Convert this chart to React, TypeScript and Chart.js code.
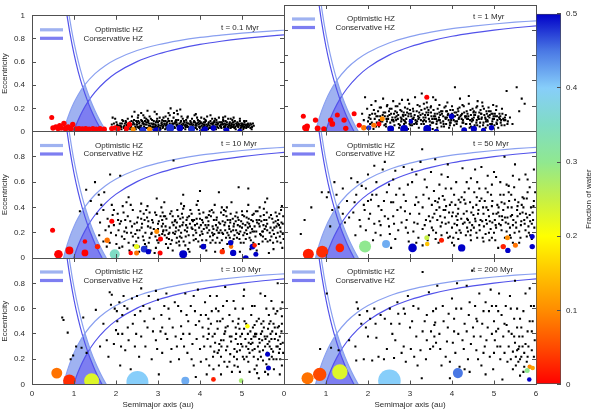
import React, { useEffect, useRef } from 'react';
import { Chart, registerables } from 'chart.js';

Chart.register(...registerables);

const FONT = "'Liberation Sans', Arial, Helvetica, sans-serif";
Chart.defaults.font.family = FONT;
Chart.defaults.font.size = 8;
Chart.defaults.color = '#303030';

// ---------------- data ----------------
const TIME_LABELS = ['t = 0.1 Myr', 't = 1 Myr', 't = 10 Myr', 't = 50 Myr', 't = 100 Myr', 't = 200 Myr'];
const LEGEND_LABELS = ['Optimistic HZ', 'Conservative HZ'];

// colour palette of the water fraction (0 .. 0.5)
const WATER_STOPS = [0, 0.05, 0.1, 0.15, 0.2, 0.25, 0.3, 0.35, 0.4, 0.45, 0.5];
const WATER_COLORS = ['#ff0000', '#ff4a00', '#ff8c00', '#ffc400', '#ffff00', '#c6f046', '#90e890', '#80dcc4', '#87cefa', '#4a78e4', '#0000c8'];
const WATER_TICKS = [0, 0.1, 0.2, 0.3, 0.4, 0.5];

// habitable-zone boundary curves (semimajor axis, eccentricity)
const OPT_PERI_A = [0.75, 0.8, 0.9, 1.0, 1.1, 1.25, 1.5, 1.75, 2, 2.5, 3, 3.5, 4, 4.5, 5, 5.5, 6];
const OPT_PERI_E = [0, 0.063, 0.167, 0.25, 0.318, 0.4, 0.5, 0.571, 0.625, 0.7, 0.75, 0.786, 0.813, 0.833, 0.85, 0.864, 0.875];
const CON_PERI_A = [0.99, 1.05, 1.1, 1.2, 1.33, 1.5, 1.75, 2, 2.5, 3, 3.5, 4, 4.5, 5, 5.5, 6];
const CON_PERI_E = [0, 0.057, 0.1, 0.175, 0.256, 0.34, 0.434, 0.505, 0.604, 0.67, 0.717, 0.753, 0.78, 0.802, 0.82, 0.835];
const OPT_APO_A = [0.885, 0.95, 1.0, 1.1, 1.2, 1.26, 1.4, 1.5, 1.6, 1.7, 1.77];
const OPT_APO_E = [1, 0.863, 0.77, 0.609, 0.475, 0.405, 0.264, 0.18, 0.106, 0.041, 0];
const CON_APO_A = [0.835, 0.9, 1.0, 1.1, 1.2, 1.33, 1.4, 1.5, 1.6, 1.67];
const CON_APO_E = [1, 0.856, 0.67, 0.518, 0.392, 0.256, 0.193, 0.113, 0.044, 0];
const OPT_ZONE_A = [0.75, 0.8, 0.9, 1.0, 1.1, 1.2, 1.26, 1.3, 1.4, 1.5, 1.6, 1.7, 1.77];
const OPT_ZONE_E = [0, 0.063, 0.167, 0.25, 0.318, 0.375, 0.405, 0.362, 0.264, 0.18, 0.106, 0.041, 0];
const CON_ZONE_A = [0.99, 1.05, 1.1, 1.2, 1.3, 1.33, 1.36, 1.4, 1.5, 1.6, 1.67];
const CON_ZONE_E = [0, 0.057, 0.1, 0.175, 0.238, 0.256, 0.228, 0.193, 0.113, 0.044, 0];

// planetesimals [a, e]
const DOTS_01 = [
  [1.92,0.12],[1.98,0.11],[2.02,0.05],[2.06,0.03],[2.1,0.07],[2.13,0.02],[2.17,0.09],[2.2,0.05],[2.22,0.01],[2.25,0.06],[2.28,0.11],[2.3,0.03],[2.33,0.08],[2.35,0.05],[2.38,0.13],[2.4,0.02],[2.42,0.07],[2.44,0.17],[2.46,0.04],[2.48,0.09],
  [2.5,0.06],[2.52,0.12],[2.54,0.03],[2.56,0.08],[2.58,0.05],[2.6,0.1],[2.61,0.02],[2.63,0.07],[2.65,0.14],[2.67,0.04],[2.69,0.09],[2.7,0.06],[2.72,0.11],[2.74,0.03],[2.76,0.08],[2.78,0.05],[2.8,0.13],[2.82,0.02],[2.84,0.07],[2.86,0.1],
  [2.88,0.04],[2.9,0.09],[2.92,0.17],[2.94,0.06],[2.96,0.03],[2.98,0.11],[3.0,0.08],[3.02,0.05],[3.04,0.12],[3.06,0.02],[3.08,0.07],[3.1,0.1],[3.12,0.04],[3.14,0.09],[3.16,0.06],[3.18,0.13],[3.2,0.03],[3.22,0.08],[3.24,0.11],[3.26,0.05],
  [3.28,0.07],[3.3,0.2],[3.31,0.02],[3.33,0.09],[3.35,0.06],[3.37,0.12],[3.39,0.04],[3.41,0.08],[3.43,0.1],[3.45,0.05],[3.47,0.15],[3.49,0.03],[3.51,0.07],[3.53,0.19],[3.55,0.09],[3.57,0.04],[3.59,0.11],[3.61,0.06],[3.63,0.08],[3.65,0.02],
  [3.67,0.1],[3.69,0.05],[3.71,0.13],[3.73,0.07],[3.75,0.03],[3.77,0.09],[3.79,0.06],[3.81,0.11],[3.83,0.04],[3.85,0.08],[3.87,0.14],[3.89,0.05],[3.91,0.07],[3.93,0.02],[3.95,0.1],[3.97,0.06],[3.99,0.09],[4.01,0.04],[4.03,0.12],[4.05,0.07],
  [4.07,0.03],[4.09,0.08],[4.11,0.05],[4.13,0.1],[4.15,0.06],[4.17,0.13],[4.19,0.02],[4.21,0.08],[4.23,0.05],[4.25,0.09],[4.27,0.04],[4.29,0.11],[4.31,0.07],[4.33,0.03],[4.35,0.08],[4.37,0.06],[4.39,0.1],[4.41,0.04],[4.43,0.07],[4.45,0.12],
  [4.47,0.05],[4.49,0.08],[4.51,0.03],[4.53,0.06],[4.55,0.1],[4.57,0.04],[4.59,0.07],[4.61,0.09],[4.63,0.02],[4.65,0.06],[4.67,0.11],[4.69,0.05],[4.71,0.08],[4.73,0.03],[4.75,0.07],[4.77,0.1],[4.79,0.04],[4.81,0.06],[4.83,0.09],[4.85,0.02],
  [4.87,0.05],[4.89,0.08],[4.91,0.04],[4.93,0.06],[4.95,0.09],[4.97,0.03],[4.99,0.05],[5.01,0.07],[5.03,0.02],[5.05,0.04],[5.07,0.06],[5.1,0.03],[5.13,0.05],[5.16,0.06],[5.2,0.03],[5.24,0.04],
  [2.01,0.08],[2.07,0.05],[2.12,0.04],[2.19,0.03],[2.24,0.08],[2.29,0.06],[2.34,0.02],[2.39,0.06],[2.43,0.1],[2.47,0.02],[2.51,0.04],[2.55,0.07],[2.59,0.03],[2.62,0.09],[2.66,0.06],[2.71,0.03],[2.75,0.1],[2.79,0.07],[2.83,0.04],[2.87,0.06],
  [2.91,0.02],[2.95,0.08],[2.99,0.04],[3.03,0.09],[3.07,0.05],[3.11,0.03],[3.15,0.07],[3.19,0.05],[3.23,0.02],[3.27,0.09],[3.32,0.04],[3.36,0.07],[3.4,0.03],[3.44,0.06],[3.48,0.1],[3.52,0.04],[3.56,0.06],[3.6,0.03],[3.64,0.05],[3.68,0.08],
  [3.72,0.04],[3.76,0.06],[3.8,0.02],[3.84,0.06],[3.88,0.03],[3.92,0.05],[3.96,0.08],[4.0,0.03],[4.04,0.05],[4.08,0.06],[4.12,0.08],[4.16,0.04],[4.2,0.06],[4.24,0.03],[4.28,0.07],[4.32,0.05],[4.36,0.04],[4.4,0.06],[4.44,0.03],[4.48,0.05],
  [4.52,0.08],[4.56,0.06],[4.6,0.04],[4.64,0.08],[4.68,0.03],[4.72,0.05],[4.76,0.06],[4.8,0.08],[4.84,0.04],[4.88,0.06],[4.92,0.07],[4.96,0.05],[5.0,0.04],[5.04,0.06],[5.09,0.05],[5.15,0.04],[5.22,0.06],[5.28,0.05],
  [1.9,0.06],[1.95,0.07],[2.6,0.16],[2.75,0.18],[3.25,0.16],[3.45,0.18],[3.9,0.15],[4.25,0.14],[4.6,0.13],[4.8,0.12],[5.1,0.09]
];
const DOTS_01B = [
  [2.03,0.06],[2.08,0.02],[2.14,0.07],[2.18,0.04],[2.23,0.09],[2.27,0.03],[2.31,0.07],[2.36,0.04],[2.41,0.08],[2.45,0.03],[2.49,0.06],[2.53,0.09],[2.57,0.02],[2.6,0.05],[2.64,0.08],[2.68,0.03],[2.73,0.06],[2.77,0.09],[2.81,0.05],[2.85,0.02],
  [2.89,0.07],[2.93,0.04],[2.97,0.09],[3.01,0.06],[3.05,0.03],[3.09,0.08],[3.13,0.05],[3.17,0.02],[3.21,0.06],[3.25,0.09],[3.29,0.04],[3.34,0.07],[3.38,0.03],[3.42,0.09],[3.46,0.06],[3.5,0.02],[3.54,0.08],[3.58,0.05],[3.62,0.09],[3.66,0.04],
  [3.7,0.07],[3.74,0.02],[3.78,0.08],[3.82,0.05],[3.86,0.09],[3.9,0.03],[3.94,0.07],[3.98,0.04],[4.02,0.08],[4.06,0.02],[4.1,0.06],[4.14,0.09],[4.18,0.05],[4.22,0.03],[4.26,0.07],[4.3,0.04],[4.34,0.09],[4.38,0.02],[4.42,0.06],[4.46,0.08],
  [4.5,0.04],[4.54,0.07],[4.58,0.02],[4.62,0.06],[4.66,0.04],[4.7,0.07],[4.74,0.05],[4.78,0.08],[4.82,0.03],[4.86,0.07],[4.9,0.05],[4.94,0.02],[4.98,0.07],[5.02,0.05],[5.06,0.08],[5.11,0.04],[5.14,0.07],[5.18,0.05],[5.23,0.02],[5.26,0.07],
  [2.15,0.1],[2.37,0.09],[2.53,0.14],[2.68,0.12],[2.83,0.11],[2.97,0.15],[3.13,0.12],[3.28,0.14],[3.38,0.16],[3.56,0.13],[3.7,0.12],[3.93,0.12],[4.1,0.11],[4.36,0.11],[4.55,0.12],[4.73,0.11],[4.95,0.11],[5.05,0.09]
];
const DOTS_01C = [
  [2.11,0.05],[2.21,0.07],[2.32,0.05],[2.44,0.06],[2.55,0.04],[2.66,0.07],[2.78,0.03],[2.9,0.06],[3.0,0.04],[3.1,0.06],[3.2,0.07],[3.3,0.05],[3.4,0.07],[3.5,0.05],[3.6,0.07],[3.7,0.04],[3.8,0.07],[3.9,0.06],[4.0,0.07],[4.1,0.04],
  [4.2,0.07],[4.3,0.06],[4.4,0.08],[4.5,0.06],[4.6,0.05],[4.7,0.06],[4.8,0.05],[4.9,0.06],[5.0,0.06],[5.12,0.06],[2.26,0.05],[2.5,0.08],[2.72,0.08],[2.95,0.05],[3.18,0.09],[3.44,0.08],[3.66,0.06],[3.88,0.08],[4.08,0.04],[4.32,0.08],
  [4.56,0.09],[4.76,0.04],[5.04,0.03],[5.2,0.07]
];
const DOTS_1 = [
  [1.82,0.05],[1.86,0.14],[1.9,0.09],[1.93,0.27],[1.95,0.03],[1.98,0.18],[2.02,0.11],[2.05,0.06],[2.08,0.21],[2.1,0.14],[2.13,0.02],[2.16,0.1],[2.18,0.24],[2.21,0.07],[2.24,0.16],[2.26,0.04],[2.29,0.12],[2.31,0.19],[2.34,0.08],[2.36,0.26],
  [2.39,0.05],[2.41,0.15],[2.44,0.1],[2.46,0.21],[2.49,0.03],[2.51,0.13],[2.53,0.07],[2.56,0.18],[2.58,0.11],[2.6,0.24],[2.63,0.05],[2.65,0.16],[2.67,0.09],[2.7,0.2],[2.72,0.13],[2.74,0.03],[2.77,0.17],[2.79,0.08],[2.81,0.25],[2.84,0.12],
  [2.86,0.06],[2.88,0.19],[2.91,0.1],[2.93,0.15],[2.95,0.02],[2.98,0.22],[3.0,0.09],[3.02,0.14],[3.05,0.05],[3.07,0.18],[3.09,0.11],[3.12,0.27],[3.14,0.07],[3.16,0.16],[3.19,0.12],[3.21,0.03],[3.23,0.2],[3.26,0.09],[3.28,0.3],[3.3,0.14],
  [3.33,0.06],[3.35,0.18],[3.37,0.11],[3.4,0.23],[3.42,0.04],[3.44,0.15],[3.47,0.08],[3.49,0.19],[3.51,0.12],[3.54,0.02],[3.56,0.17],[3.58,0.1],[3.61,0.25],[3.63,0.06],[3.65,0.14],[3.68,0.09],[3.7,0.21],[3.72,0.13],[3.75,0.04],[3.77,0.16],
  [3.79,0.08],[3.82,0.19],[3.84,0.11],[3.86,0.06],[3.89,0.23],[3.91,0.14],[3.93,0.03],[3.96,0.17],[3.98,0.09],[4.0,0.2],[4.03,0.12],[4.05,0.05],[4.07,0.35],[4.1,0.15],[4.12,0.08],[4.14,0.18],[4.17,0.11],[4.19,0.26],[4.21,0.04],[4.24,0.14],
  [4.26,0.09],[4.28,0.2],[4.31,0.12],[4.33,0.06],[4.35,0.16],[4.38,0.1],[4.4,0.22],[4.42,0.03],[4.45,0.13],[4.47,0.08],[4.49,0.18],[4.52,0.11],[4.54,0.05],[4.56,0.15],[4.59,0.09],[4.61,0.24],[4.63,0.12],[4.66,0.04],[4.68,0.17],[4.7,0.1],
  [4.73,0.2],[4.75,0.07],[4.77,0.13],[4.8,0.03],[4.82,0.16],[4.84,0.09],[4.87,0.19],[4.89,0.11],[4.91,0.06],[4.94,0.14],[4.96,0.08],[4.98,0.21],[5.01,0.05],[5.03,0.12],[5.05,0.17],[5.08,0.09],[5.1,0.03],[5.13,0.14],[5.16,0.07],[5.19,0.18],
  [5.22,0.1],[5.25,0.05],[5.28,0.13],[5.3,0.32],[5.33,0.08],[5.38,0.11],[5.44,0.06],[5.54,0.35],[5.6,0.16],[5.73,0.22],[5.66,0.26],
  [2.0,0.08],[2.11,0.05],[2.2,0.12],[2.27,0.09],[2.35,0.13],[2.42,0.06],[2.48,0.1],[2.55,0.14],[2.61,0.08],[2.68,0.12],[2.73,0.06],[2.8,0.1],[2.85,0.15],[2.9,0.07],[2.96,0.12],[3.01,0.05],[3.06,0.1],[3.11,0.13],[3.17,0.08],[3.22,0.15],
  [3.27,0.06],[3.32,0.11],[3.38,0.08],[3.43,0.13],[3.48,0.05],[3.53,0.1],[3.59,0.14],[3.64,0.08],[3.69,0.11],[3.74,0.16],[3.8,0.06],[3.85,0.1],[3.9,0.13],[3.95,0.07],[4.01,0.11],[4.06,0.15],[4.11,0.06],[4.16,0.1],[4.22,0.13],[4.27,0.07],
  [4.32,0.11],[4.37,0.14],[4.43,0.06],[4.48,0.1],[4.53,0.13],[4.58,0.07],[4.64,0.1],[4.69,0.14],[4.74,0.05],[4.79,0.11],[4.85,0.08],[4.9,0.13],[4.95,0.06],[5.0,0.1],[5.06,0.07],[5.12,0.11],[5.18,0.05],[5.24,0.09],[5.32,0.06]
];
const DOTS_1B = [
  [2.04,0.13],[2.09,0.07],[2.14,0.17],[2.19,0.04],[2.23,0.12],[2.28,0.19],[2.33,0.1],[2.37,0.15],[2.43,0.04],[2.47,0.12],[2.52,0.18],[2.57,0.09],[2.62,0.14],[2.66,0.2],[2.71,0.1],[2.76,0.05],[2.8,0.16],[2.85,0.09],[2.89,0.13],[2.94,0.18],
  [2.99,0.06],[3.03,0.12],[3.08,0.16],[3.13,0.09],[3.18,0.21],[3.22,0.11],[3.27,0.17],[3.31,0.08],[3.36,0.13],[3.41,0.19],[3.45,0.1],[3.5,0.15],[3.55,0.07],[3.6,0.12],[3.66,0.18],[3.71,0.09],[3.76,0.14],[3.81,0.04],[3.86,0.16],[3.92,0.09],
  [3.97,0.12],[4.02,0.17],[4.08,0.08],[4.13,0.13],[4.18,0.19],[4.23,0.1],[4.29,0.15],[4.34,0.06],[4.39,0.12],[4.44,0.17],[4.5,0.09],[4.55,0.13],[4.6,0.05],[4.65,0.15],[4.71,0.11],[4.76,0.18],[4.81,0.08],[4.86,0.12],[4.92,0.16],[4.97,0.1],
  [5.02,0.14],[5.07,0.06],[5.14,0.1],[5.2,0.14],[5.27,0.09],
  [2.25,0.06],[2.45,0.08],[2.65,0.11],[2.83,0.13],[3.04,0.07],[3.2,0.1],[3.39,0.15],[3.57,0.12],[3.73,0.07],[3.88,0.11],[4.04,0.09],[4.2,0.12],[4.36,0.1],[4.51,0.15],[4.67,0.07],[4.83,0.14],[4.99,0.12],[5.15,0.12],[3.1,0.06],[3.95,0.05],
  [4.45,0.04],[2.9,0.04],[3.65,0.03],[4.85,0.05],[2.58,0.03],[3.33,0.22],[4.25,0.21],[4.58,0.19],[3.85,0.2],[2.75,0.22],[5.06,0.2],[4.72,0.23],[3.55,0.27],[4.4,0.28],[2.95,0.25]
];
const DOTS_1C = [
  [2.06,0.1],[2.17,0.14],[2.3,0.08],[2.4,0.12],[2.5,0.16],[2.6,0.09],[2.69,0.15],[2.78,0.11],[2.88,0.08],[2.97,0.14],[3.07,0.1],[3.16,0.06],[3.25,0.13],[3.34,0.09],[3.44,0.17],[3.52,0.07],[3.62,0.1],[3.7,0.15],[3.79,0.12],[3.88,0.16],
  [3.97,0.07],[4.07,0.12],[4.15,0.16],[4.25,0.07],[4.34,0.12],[4.43,0.09],[4.52,0.16],[4.62,0.11],[4.7,0.14],[4.8,0.1],[4.88,0.16],[4.97,0.14],[5.07,0.12],[5.17,0.09],[5.26,0.11],[3.0,0.17],[3.5,0.2],[4.0,0.14],[4.6,0.2],[2.45,0.2]
];
const DOTS_10 = [
  [1.14,0.37],[1.29,0.54],[1.5,0.6],[1.59,0.5],[1.72,0.52],[1.86,0.66],[2.1,0.65],[3.37,0.77],[4.0,0.53],[4.45,0.52],[4.92,0.56],[5.15,0.55],[2.97,0.47],[1.4,0.45],[1.65,0.42],[2.3,0.48],[3.6,0.5],[5.6,0.47],
  [1.55,0.35],[1.62,0.28],[1.7,0.38],[1.75,0.22],[1.8,0.31],[1.85,0.12],[1.9,0.42],[1.95,0.26],[2.0,0.18],[2.04,0.35],[2.08,0.08],[2.12,0.29],[2.16,0.41],[2.2,0.15],[2.24,0.24],[2.28,0.33],[2.32,0.06],[2.36,0.2],[2.4,0.38],[2.44,0.27],
  [2.48,0.13],[2.52,0.32],[2.56,0.22],[2.6,0.43],[2.64,0.17],[2.68,0.3],[2.72,0.09],[2.76,0.25],[2.8,0.36],[2.84,0.19],[2.88,0.28],[2.92,0.04],[2.96,0.34],[3.0,0.23],[3.04,0.14],[3.08,0.4],[3.12,0.27],[3.16,0.18],[3.2,0.31],[3.24,0.08],
  [3.28,0.24],[3.32,0.37],[3.36,0.2],[3.4,0.29],[3.44,0.12],[3.48,0.33],[3.52,0.25],[3.56,0.16],[3.6,0.39],[3.64,0.22],[3.68,0.3],[3.72,0.07],[3.76,0.27],[3.8,0.35],[3.84,0.18],[3.88,0.26],[3.92,0.42],[3.96,0.13],[4.0,0.31],[4.04,0.21],
  [4.08,0.36],[4.12,0.1],[4.16,0.24],[4.2,0.29],[4.24,0.17],[4.28,0.38],[4.32,0.23],[4.36,0.05],[4.4,0.32],[4.44,0.2],[4.48,0.27],[4.52,0.14],[4.56,0.34],[4.6,0.22],[4.64,0.4],[4.68,0.18],[4.72,0.28],[4.76,0.09],[4.8,0.25],[4.84,0.33],
  [4.88,0.16],[4.92,0.3],[4.96,0.21],[5.0,0.37],[5.04,0.12],[5.08,0.26],[5.12,0.19],[5.16,0.31],[5.2,0.07],[5.24,0.23],[5.28,0.35],[5.32,0.17],[5.36,0.28],[5.4,0.11],[5.44,0.33],[5.48,0.21],[5.52,0.39],[5.56,0.15],[5.6,0.27],[5.64,0.04],
  [5.68,0.24],[5.72,0.31],[5.76,0.19],[5.8,0.36],[5.84,0.13],[5.88,0.26],[5.92,0.21],[5.96,0.08],[5.98,0.33],
  [1.6,0.18],[1.78,0.09],[1.88,0.2],[1.98,0.05],[2.06,0.22],[2.14,0.17],[2.22,0.3],[2.3,0.12],[2.38,0.25],[2.46,0.19],[2.54,0.09],[2.62,0.27],[2.7,0.2],[2.78,0.12],[2.86,0.3],[2.94,0.17],[3.02,0.29],[3.1,0.19],[3.18,0.25],[3.26,0.15],
  [3.34,0.28],[3.42,0.21],[3.5,0.13],[3.58,0.26],[3.66,0.17],[3.74,0.33],[3.82,0.23],[3.9,0.15],[3.98,0.24],[4.06,0.19],[4.14,0.32],[4.22,0.22],[4.3,0.14],[4.38,0.26],[4.46,0.2],[4.54,0.29],[4.62,0.16],[4.7,0.23],[4.78,0.31],[4.86,0.22],
  [4.94,0.15],[5.02,0.27],[5.1,0.22],[5.18,0.16],[5.26,0.29],[5.34,0.21],[5.42,0.25],[5.5,0.17],[5.58,0.3],[5.66,0.2],[5.74,0.12],[5.82,0.25],[5.9,0.17],[5.94,0.28],
  [3.55,0.2],[3.7,0.24],[3.86,0.3],[4.02,0.26],[4.18,0.2],[4.26,0.33],[4.34,0.19],[4.42,0.24],[4.5,0.36],[4.58,0.26],[4.66,0.3],[4.74,0.21],[4.82,0.18],[4.9,0.26],[4.98,0.29],[5.06,0.2],[5.14,0.24],[5.22,0.3],[5.3,0.25],[5.46,0.29],
  [5.54,0.23],[5.7,0.17],[5.86,0.3],[2.5,0.28],[2.66,0.35],[2.82,0.24],[3.14,0.33],[3.3,0.11],[3.46,0.38]
];
const DOTS_10B = [
  [1.83,0.25],[1.92,0.34],[2.01,0.11],[2.09,0.27],[2.18,0.36],[2.26,0.2],[2.34,0.29],[2.42,0.1],[2.5,0.22],[2.58,0.37],[2.66,0.14],[2.74,0.32],[2.82,0.06],[2.9,0.23],[2.98,0.14],[3.06,0.33],[3.13,0.22],[3.21,0.16],[3.29,0.35],[3.37,0.26],
  [3.45,0.16],[3.53,0.31],[3.61,0.13],[3.69,0.21],[3.77,0.38],[3.85,0.14],[3.93,0.27],[4.01,0.09],[4.09,0.23],[4.17,0.32],[4.25,0.12],[4.33,0.3],[4.41,0.16],[4.49,0.22],[4.57,0.38],[4.65,0.11],[4.73,0.35],[4.81,0.27],[4.89,0.2],[4.97,0.12],
  [5.05,0.33],[5.13,0.28],[5.21,0.14],[5.29,0.21],[5.37,0.37],[5.45,0.18],[5.53,0.3],[5.61,0.13],[5.69,0.34],[5.77,0.24],[5.85,0.2],[5.93,0.38],[5.99,0.15],
  [3.03,0.18],[3.11,0.36],[3.19,0.11],[3.27,0.2],[3.35,0.33],[3.43,0.24],[3.51,0.1],[3.59,0.32],[3.67,0.26],[3.75,0.12],[3.83,0.29],[3.91,0.2],[3.99,0.35],[4.07,0.28],[4.15,0.14],[4.23,0.37],[4.31,0.18],[4.39,0.3],[4.47,0.12],[4.55,0.19],
  [4.63,0.33],[4.71,0.16],[4.79,0.22],[4.87,0.36],[4.95,0.25],[5.03,0.18],[5.11,0.32],[5.19,0.25],[5.27,0.12],[5.35,0.3],[5.43,0.19],[5.51,0.26],[5.59,0.36],[5.67,0.14],[5.75,0.28],[5.83,0.33],[5.91,0.24],[5.97,0.19],
  [2.15,0.09],[2.35,0.42],[2.55,0.05],[2.75,0.41],[2.95,0.08],[3.15,0.44],[3.35,0.06],[3.55,0.43],[3.75,0.05],[3.95,0.45],[4.15,0.06],[4.35,0.42],[4.55,0.07],[4.75,0.44],[4.95,0.05],[5.15,0.42],[5.35,0.06],[5.55,0.44],[5.75,0.07],[5.95,0.41],
  [2.2,0.21],[2.4,0.17],[2.6,0.31],[2.8,0.16],[3.0,0.27],[3.2,0.22],[3.4,0.19],[3.6,0.28],[3.8,0.24],[4.0,0.18],[4.2,0.26],[4.4,0.22],[4.6,0.28],[4.8,0.15],[5.0,0.24],[5.2,0.2],[5.4,0.27],[5.6,0.22],[5.8,0.29],[3.1,0.3],
  [3.7,0.32],[4.3,0.25],[4.9,0.32],[5.5,0.21],[3.45,0.28],[4.05,0.3],[4.65,0.2],[5.25,0.34],[5.85,0.27]
];
const DOTS_10C = [
  [2.53,0.16],[2.61,0.24],[2.69,0.11],[2.77,0.29],[2.85,0.2],[2.93,0.36],[3.01,0.12],[3.09,0.25],[3.17,0.33],[3.25,0.19],[3.33,0.14],[3.41,0.3],[3.49,0.22],[3.57,0.35],[3.65,0.1],[3.73,0.18],[3.81,0.3],[3.89,0.22],[3.97,0.38],[4.05,0.14],
  [4.13,0.26],[4.21,0.34],[4.29,0.2],[4.37,0.12],[4.45,0.28],[4.53,0.2],[4.61,0.37],[4.69,0.25],[4.77,0.13],[4.85,0.29],[4.93,0.19],[5.01,0.34],[5.09,0.15],[5.17,0.27],[5.25,0.21],[5.33,0.37],[5.41,0.3],[5.49,0.13],[5.57,0.25],[5.65,0.32],
  [5.73,0.22],[5.81,0.16],[5.89,0.35],[5.97,0.27],[3.12,0.21],[3.52,0.17],[3.92,0.31],[4.32,0.36],[4.72,0.3],[5.12,0.37],[5.52,0.34],[5.92,0.12],[2.72,0.38],[3.62,0.41],[4.52,0.4],[5.42,0.4],[1.95,0.38],[2.25,0.44],[1.7,0.13],[2.05,0.3]
];
const DOTS_50 = [
  [0.4,0.19],[0.49,0.3],[1.02,0.48],[1.06,0.52],[1.15,0.38],[1.25,0.5],[1.4,0.55],[1.6,0.63],[1.5,0.45],[1.65,0.36],[1.72,0.5],[1.8,0.3],[1.85,0.57],[1.9,0.42],[1.95,0.22],[2.0,0.66],[2.05,0.35],[2.1,0.5],[2.15,0.27],[2.2,0.6],
  [2.25,0.41],[2.3,0.18],[2.35,0.7],[2.4,0.33],[2.45,0.52],[2.5,0.25],[2.55,0.44],[2.6,0.62],[2.65,0.15],[2.7,0.38],[2.75,0.55],[2.8,0.28],[2.85,0.72],[2.9,0.45],[2.95,0.2],[3.0,0.35],[3.05,0.6],[3.1,0.28],[3.15,0.48],[3.2,0.16],
  [3.25,0.76],[3.29,0.86],[3.3,0.4],[3.35,0.26],[3.4,0.56],[3.45,0.33],[3.5,0.68],[3.55,0.22],[3.6,0.45],[3.65,0.3],[3.7,0.58],[3.75,0.18],[3.8,0.38],[3.85,0.27],[3.9,0.64],[3.95,0.42],[4.0,0.24],[4.05,0.5],[4.1,0.33],[4.15,0.15],
  [4.2,0.44],[4.25,0.71],[4.3,0.28],[4.35,0.37],[4.4,0.55],[4.45,0.22],[4.5,0.4],[4.55,0.31],[4.6,0.6],[4.65,0.26],[4.7,0.47],[4.75,0.35],[4.8,0.19],[4.85,0.52],[4.9,0.29],[4.95,0.41],[5.0,0.68],[5.05,0.24],[5.1,0.36],[5.15,0.5],
  [5.2,0.3],[5.25,0.43],[5.3,0.21],[5.35,0.57],[5.4,0.33],[5.45,0.26],[5.5,0.46],[5.55,0.38],[5.6,0.62],[5.65,0.29],[5.7,0.4],[5.75,0.22],[5.8,0.52],[5.85,0.34],[5.9,0.27],[5.95,0.45],
  [2.02,0.31],[2.18,0.2],[2.32,0.38],[2.48,0.31],[2.62,0.27],[2.78,0.4],[2.92,0.3],[3.08,0.21],[3.22,0.35],[3.38,0.3],[3.52,0.42],[3.62,0.2],[3.72,0.33],[3.82,0.46],[3.92,0.28],[4.02,0.36],[4.12,0.26],[4.22,0.31],[4.32,0.43],[4.42,0.28],
  [4.52,0.24],[4.62,0.35],[4.72,0.29],[4.82,0.4],[4.92,0.23],[5.02,0.3],[5.12,0.27],[5.22,0.38],[5.32,0.32],[5.42,0.4],[5.52,0.28],[5.62,0.35],[5.72,0.3],[5.82,0.25],[5.92,0.36],[3.45,0.18],[3.95,0.17],[4.45,0.14],[4.95,0.16],[5.45,0.12],
  [3.15,0.12],[2.55,0.08],[4.05,0.1],[5.1,0.08],[4.75,0.13],[5.6,0.21],[5.78,0.17],[4.38,0.21],[4.88,0.33],[5.38,0.24],[3.58,0.35],[4.15,0.39],[4.58,0.42],[5.18,0.44],[5.68,0.48],[2.85,0.5],[3.35,0.62],[3.75,0.66],[4.45,0.63],[4.95,0.58],
  [5.45,0.65],[2.5,0.58],[2.2,0.5],[1.95,0.55],[1.75,0.6],[3.05,0.7],[3.9,0.74],[4.7,0.72],[5.5,0.74],[2.4,0.76],[5.95,0.7]
];
const DOTS_50B = [
  [1.55,0.32],[1.68,0.44],[1.82,0.25],[1.92,0.38],[2.07,0.46],[2.12,0.14],[2.27,0.29],[2.38,0.45],[2.52,0.19],[2.67,0.5],[2.72,0.22],[2.88,0.37],[2.97,0.13],[3.12,0.42],[3.18,0.27],[3.32,0.5],[3.42,0.14],[3.48,0.29],[3.57,0.53],[3.63,0.38],
  [3.68,0.12],[3.73,0.25],[3.78,0.49],[3.83,0.32],[3.88,0.2],[3.93,0.36],[3.98,0.55],[4.03,0.16],[4.08,0.42],[4.13,0.3],[4.18,0.22],[4.23,0.48],[4.28,0.35],[4.33,0.18],[4.38,0.3],[4.43,0.44],[4.48,0.26],[4.53,0.52],[4.58,0.2],[4.63,0.38],
  [4.68,0.3],[4.73,0.16],[4.78,0.45],[4.83,0.27],[4.88,0.2],[4.93,0.5],[4.98,0.35],[5.03,0.14],[5.08,0.42],[5.13,0.33],[5.18,0.22],[5.23,0.5],[5.28,0.28],[5.33,0.4],[5.38,0.18],[5.43,0.34],[5.48,0.56],[5.53,0.24],[5.58,0.44],[5.63,0.16],
  [5.68,0.36],[5.73,0.27],[5.78,0.47],[5.83,0.2],[5.88,0.4],[5.93,0.3],[5.98,0.52],
  [3.52,0.24],[3.66,0.44],[3.86,0.41],[4.0,0.33],[4.16,0.46],[4.26,0.27],[4.36,0.24],[4.46,0.36],[4.56,0.29],[4.66,0.45],[4.76,0.25],[4.86,0.38],[4.96,0.28],[5.06,0.35],[5.16,0.26],[5.26,0.32],[5.36,0.45],[5.46,0.3],[5.56,0.33],[5.66,0.42],
  [5.76,0.35],[5.86,0.29],[5.96,0.24],[4.1,0.2],[4.6,0.16],[5.0,0.2],[5.4,0.16],[5.9,0.15],[3.7,0.4],[4.3,0.52],[4.8,0.55],[5.3,0.58],[5.8,0.62],
  [2.15,0.73],[2.65,0.69],[3.15,0.66],[3.6,0.78],[4.1,0.6],[4.55,0.7],[5.05,0.64],[5.25,0.8],[5.75,0.66],[2.45,0.1],[3.3,0.1],[1.3,0.4],[1.45,0.28],[1.2,0.6],[0.9,0.52],[0.65,0.4],[1.1,0.25],[2.95,0.58],[3.45,0.47],[2.6,0.44]
];
const DOTS_50C = [
  [3.54,0.32],[3.61,0.15],[3.69,0.47],[3.76,0.28],[3.84,0.38],[3.91,0.16],[3.99,0.44],[4.06,0.27],[4.14,0.35],[4.21,0.2],[4.29,0.46],[4.36,0.31],[4.44,0.18],[4.51,0.34],[4.59,0.48],[4.66,0.22],[4.74,0.4],[4.81,0.3],[4.89,0.14],[4.96,0.45],
  [5.04,0.26],[5.11,0.4],[5.19,0.33],[5.26,0.16],[5.34,0.27],[5.41,0.5],[5.49,0.2],[5.56,0.41],[5.64,0.26],[5.71,0.47],[5.79,0.32],[5.86,0.18],[5.94,0.41],[3.2,0.44],[2.9,0.24],[2.6,0.33],[2.3,0.26],[2.0,0.45],[3.85,0.55],[4.35,0.6],
  [4.85,0.65],[5.35,0.52],[5.85,0.56],[4.65,0.55],[5.15,0.6],[3.3,0.23],[4.0,0.12],[5.6,0.12],[1.7,0.18],[1.4,0.35]
];
const DOTS_100 = [
  [0.72,0.53],[0.75,0.51],[0.85,0.41],[0.92,0.2],[0.98,0.23],[1.05,0.3],[1.18,0.29],[1.22,0.53],[1.3,0.25],[1.52,0.59],[1.62,0.3],[1.7,0.48],[1.78,0.35],[1.82,0.22],[1.85,0.73],[1.88,0.63],[1.9,0.71],[1.95,0.32],[2.0,0.43],[2.03,0.5],
  [2.08,0.65],[2.1,0.15],[2.15,0.4],[2.2,0.62],[2.22,0.27],[2.27,0.6],[2.3,0.35],[2.35,0.12],[2.4,0.48],[2.45,0.55],[2.5,0.7],[2.55,0.22],[2.6,0.38],[2.65,0.62],[2.7,0.3],[2.75,0.45],[2.8,0.6],[2.85,0.2],[2.9,0.52],[2.95,0.35],
  [3.0,0.67],[3.02,0.08],[3.06,0.42],[3.1,0.25],[3.15,0.62],[3.2,0.72],[3.22,0.36],[3.27,0.52],[3.3,0.18],[3.35,0.45],[3.4,0.65],[3.45,0.3],[3.5,0.2],[3.55,0.58],[3.6,0.4],[3.65,0.72],[3.7,0.25],[3.72,0.5],[3.78,0.62],[3.82,0.32],
  [3.85,0.15],[3.9,0.47],[3.95,0.75],[4.0,0.28],[4.02,0.55],[4.08,0.38],[4.12,0.65],[4.15,0.2],[4.2,0.44],[4.25,0.3],[4.28,0.58],[4.32,0.12],[4.35,0.4],[4.4,0.7],[4.42,0.25],[4.48,0.5],[4.5,0.35],[4.55,0.62],[4.58,0.18],[4.6,0.42],
  [4.65,0.3],[4.7,0.55],[4.72,0.24],[4.75,0.38],[4.8,0.66],[4.82,0.15],[4.85,0.45],[4.9,0.32],[4.92,0.52],[4.95,0.27],[5.0,0.4],[5.02,0.6],[5.05,0.2],[5.08,0.36],[5.1,0.48],[5.15,0.28],[5.18,0.1],[5.2,0.42],[5.22,0.55],[5.25,0.33],
  [5.28,0.22],[5.3,0.47],[5.32,0.38],[5.35,0.15],[5.38,0.3],[5.4,0.52],[5.42,0.26],[5.45,0.4],[5.48,0.35],[5.5,0.19],[5.52,0.45],[5.55,0.3],[5.58,0.6],[5.6,0.38],[5.62,0.08],[5.65,0.34],[5.68,0.5],[5.7,0.28],[5.72,0.42],[5.75,0.2],
  [5.78,0.36],[5.8,0.56],[5.82,0.3],[5.85,0.45],[5.88,0.25],[5.9,0.38],[5.92,0.6],[5.95,0.15],[5.97,0.33],[5.3,0.12],[4.5,0.08],[3.9,0.06],[5.7,0.66],[5.85,0.8],[5.55,0.7],[5.05,0.75],[4.6,0.77],[2.05,0.4],[2.6,0.76],[2.95,0.74],
  [5.3,0.62],[4.88,0.2],[4.45,0.15],[5.15,0.18],[5.6,0.25],[5.75,0.48],[5.9,0.08],[4.95,0.1],[4.2,0.52],[3.55,0.36],[3.1,0.45],[2.45,0.3],[2.15,0.55],[1.97,0.6],[3.85,0.7],[5.4,0.05],[5.95,0.48],[5.65,0.2]
];
const DOTS_100B = [
  [4.02,0.18],[4.06,0.45],[4.1,0.3],[4.14,0.55],[4.18,0.36],[4.22,0.15],[4.26,0.48],[4.3,0.38],[4.34,0.26],[4.38,0.6],[4.42,0.44],[4.46,0.32],[4.5,0.22],[4.54,0.52],[4.58,0.4],[4.62,0.27],[4.66,0.46],[4.7,0.18],[4.74,0.34],[4.78,0.5],
  [4.82,0.28],[4.86,0.4],[4.9,0.14],[4.94,0.44],[4.98,0.32],[5.02,0.22],[5.06,0.5],[5.1,0.3],[5.14,0.4],[5.18,0.25],[5.22,0.36],[5.26,0.45],[5.3,0.28],[5.34,0.4],[5.38,0.2],[5.42,0.33],[5.46,0.48],[5.5,0.27],[5.54,0.38],[5.58,0.16],
  [5.62,0.44],[5.66,0.3],[5.7,0.36],[5.74,0.26],[5.78,0.45],[5.82,0.2],[5.86,0.35],[5.9,0.28],[5.94,0.42],[5.98,0.25],
  [3.62,0.3],[3.68,0.55],[3.75,0.4],[3.8,0.2],[3.88,0.58],[3.92,0.36],[3.98,0.5],[3.55,0.46],[3.48,0.62],[3.42,0.38],[3.32,0.28],[3.25,0.6],[3.18,0.4],[3.08,0.55],[2.98,0.28],[2.88,0.42],[2.78,0.7],[2.68,0.5],[2.58,0.58],[2.48,0.4],
  [2.38,0.68],[2.28,0.45],[2.18,0.7],[2.12,0.3],[2.02,0.58],
  [4.44,0.58],[4.84,0.6],[5.24,0.62],[5.64,0.55],[5.84,0.58],[4.64,0.66],[5.04,0.7],[5.44,0.72],[5.96,0.65],[4.24,0.7],[4.76,0.1],[5.36,0.09],[5.76,0.12],[4.16,0.08],[5.56,0.36],[5.16,0.33],[4.56,0.35],[4.96,0.38],[5.68,0.4],[5.88,0.46],
  [5.48,0.42],[5.28,0.38],[4.88,0.26],[4.36,0.33],[5.92,0.32],
  [4.21,0.4],[4.31,0.22],[4.41,0.5],[4.51,0.3],[4.61,0.45],[4.71,0.38],[4.81,0.22],[4.91,0.48],[5.01,0.3],[5.11,0.22],[5.21,0.32],[5.31,0.4],[5.41,0.36],[5.51,0.5],[5.61,0.32],[5.71,0.22],[5.81,0.4],[5.91,0.2],[5.25,0.27],[5.45,0.22],
  [5.65,0.48],[5.85,0.3],[4.85,0.36],[4.45,0.27],[5.05,0.44],[5.55,0.1],[5.95,0.54],[4.65,0.14],[5.35,0.5],[5.75,0.6]
];
const DOTS_200 = [
  [0.86,0.28],[1.02,0.72],[1.12,0.29],[1.3,0.27],[1.73,0.65],[1.76,0.6],[1.7,0.3],[1.72,0.19],[1.8,0.55],[1.84,0.48],[1.9,0.2],[1.98,0.58],[2.05,0.52],[2.1,0.19],[2.18,0.48],[2.25,0.22],[2.3,0.55],[2.38,0.2],[2.45,0.28],[2.52,0.6],
  [2.58,0.4],[2.62,0.21],[2.7,0.65],[2.75,0.48],[2.8,0.25],[2.88,0.56],[2.9,0.18],[2.95,0.7],[3.0,0.45],[3.02,0.28],[3.08,0.62],[3.1,0.22],[3.15,0.38],[3.2,0.6],[3.25,0.27],[3.28,0.05],[3.3,0.89],[3.35,0.5],[3.38,0.2],[3.45,0.73],
  [3.5,0.42],[3.55,0.58],[3.58,0.47],[3.6,0.49],[3.62,0.33],[3.65,0.78],[3.7,0.4],[3.72,0.28],[3.78,0.62],[3.8,0.5],[3.85,0.22],[3.9,0.45],[3.95,0.18],[4.0,0.68],[4.02,0.33],[4.05,0.52],[4.08,0.25],[4.12,0.8],[4.15,0.4],[4.18,0.14],
  [4.22,0.6],[4.25,0.35],[4.3,0.48],[4.35,0.78],[4.38,0.2],[4.4,0.55],[4.45,0.32],[4.48,0.9],[4.5,0.45],[4.55,0.62],[4.58,0.27],[4.6,0.5],[4.65,0.72],[4.68,0.38],[4.7,0.15],[4.75,0.58],[4.78,0.3],[4.8,0.65],[4.85,0.45],[4.88,0.58],
  [4.9,0.22],[4.92,0.75],[4.95,0.4],[4.98,0.12],[5.0,0.5],[5.05,0.62],[5.08,0.3],[5.1,0.44],[5.12,0.72],[5.15,0.2],[5.18,0.55],[5.2,0.04],[5.22,0.38],[5.25,0.25],[5.28,0.62],[5.3,0.47],[5.35,0.3],[5.38,0.7],[5.4,0.2],[5.42,0.4],
  [5.45,0.26],[5.48,0.52],[5.5,0.33],[5.52,0.22],[5.55,0.6],[5.58,0.28],[5.6,0.38],[5.62,0.2],[5.65,0.45],[5.68,0.3],[5.7,0.58],[5.72,0.25],[5.75,0.72],[5.78,0.18],[5.8,0.42],[5.82,0.3],[5.85,0.76],[5.88,0.62],[5.9,0.27],[5.92,0.5],
  [5.95,0.22],[5.97,0.35],[5.58,0.18],[5.45,0.12],[5.65,0.22],[5.55,0.27],[5.7,0.1],[5.62,0.07],[4.8,0.08],[3.95,0.05],[4.35,0.42],[3.4,0.35],[3.55,0.3],[3.58,0.38],[5.0,0.25],[2.2,0.37],[5.5,0.82],[2.85,0.6],[4.42,0.1]
];
const DOTS_200B = [
  [1.55,0.35],[1.95,0.45],[2.15,0.6],[2.4,0.52],[2.65,0.35],[2.85,0.3],[3.05,0.5],[3.18,0.15],[3.4,0.55],[3.48,0.28],[3.62,0.6],[3.75,0.15],[3.88,0.34],[4.05,0.42],[4.1,0.6],[4.28,0.28],[4.42,0.65],[4.52,0.38],[4.62,0.2],[4.72,0.48],
  [4.82,0.35],[4.95,0.62],[5.02,0.35],[5.15,0.3],[5.25,0.48],[5.32,0.18],[5.4,0.6],[5.48,0.38],[5.55,0.45],[5.62,0.52],[5.68,0.38],[5.75,0.32],[5.8,0.22],[5.85,0.5],[5.9,0.42],[5.95,0.62],[5.52,0.15],[5.72,0.14],[5.6,0.3],[5.35,0.42],
  [5.1,0.58],[4.75,0.25],[4.3,0.12],[3.3,0.42],[2.55,0.48],[2.0,0.38],[2.72,0.56],[3.92,0.56],[4.58,0.52],[5.05,0.42]
];

// embryos and planets [a, e, water fraction, mass]
const BODIES_01 = [
  [0.47,0.12,0,0.4],[0.5,0.03,0,0.5],[0.57,0.04,0,0.5],[0.62,0.025,0,0.5],[0.66,0.05,0,0.5],[0.7,0.03,0,0.5],[0.76,0.07,0,0.5],[0.8,0.025,0,0.6],[0.86,0.04,0,0.5],[0.92,0.025,0,0.6],
  [0.97,0.06,0,0.5],[1.05,0.02,0,0.6],[1.12,0.025,0,0.5],[1.2,0.02,0,0.6],[1.28,0.025,0,0.5],[1.36,0.02,0,0.5],[1.45,0.025,0,0.5],[1.53,0.02,0,0.5],[1.62,0.025,0,0.5],[1.72,0.02,0,0.5],
  [1.9,0.025,0,0.5],[1.98,0.03,0,0.5],[2.05,0.025,0,0.5],[2.25,0.025,0,0.5],[2.32,0.06,0,0.5],[2.41,0.02,0.1,0.4],[2.8,0.02,0.1,0.4],
  [2.64,0.01,0.48,1.0],[2.97,0.0,0.5,2.0],[3.29,0.03,0.48,1.6],[3.52,0.03,0.5,1.0],[3.8,0.02,0.48,1.0],[4.04,0.0,0.5,0.6],[4.12,0.02,0.5,0.6],[4.32,0.03,0.5,0.6],[4.63,0.01,0.5,0.6],[4.95,0.0,0.5,0.5]
];
const BODIES_1 = [
  [0.46,0.12,0,0.4],[0.5,0.03,0,0.6],[0.53,0.02,0,0.6],[0.55,0.04,0,0.6],[0.75,0.09,0,0.5],[0.8,0.025,0,0.6],[0.95,0.02,0,0.5],[1.11,0.09,0,0.5],[1.15,0.06,0,0.6],[1.27,0.13,0,0.4],
  [1.43,0.09,0,0.5],[1.47,0.025,0,0.5],[1.67,0.14,0,0.4],[1.79,0.05,0,0.4],[2.26,0.06,0,0.4],[3.4,0.27,0,0.4],[1.9,0.03,0.08,0.5],[2.14,0.05,0.08,0.4],[2.34,0.1,0.1,0.4],
  [2.02,0.03,0.48,0.4],[2.54,0.02,0.5,1.0],[2.86,0.02,0.5,1.6],[3.02,0.08,0.5,0.3],[3.41,0.02,0.5,1.6],[3.63,0.0,0.5,0.5],[3.99,0.12,0.5,0.6],[4.29,0.01,0.5,0.6],[4.52,0.02,0.5,0.8],[4.75,0.01,0.5,0.4],[4.94,0.03,0.5,0.5]
];
const BODIES_10 = [
  [0.49,0.22,0,0.4],[0.63,0.03,0,2.0],[0.89,0.06,0,1.6],[1.26,0.04,0,1.0],[1.26,0.13,0,0.3],[1.56,0.09,0.02,0.5],[1.79,0.14,0.08,0.5],[1.9,0.29,0,0.4],[1.97,0.03,0.35,3.2],[2.35,0.04,0,0.3],
  [2.49,0.09,0.22,0.5],[2.49,0.04,0.08,0.4],[2.67,0.07,0.48,0.9],[2.77,0.05,0.5,0.5],[2.97,0.21,0.1,0.4],[3.06,0.15,0,0.4],[3.05,0.04,0,0.4],[3.6,0.03,0.5,1.6],[4.08,0.09,0.5,0.6],[4.53,0.05,0.03,0.5],
  [4.74,0.09,0.08,0.3],[4.73,0.12,0.5,0.5],[4.79,0.04,0.5,0.8],[5.09,0.0,0.5,0.6],[5.25,0.09,0.5,0.6],[5.3,0.1,0.02,0.3],[5.33,0.03,0.5,0.4]
];
const BODIES_50 = [
  [0.58,0.03,0.02,4.2],[0.91,0.05,0.03,5.5],[1.33,0.08,0.02,2.0],[1.93,0.09,0.3,5.5],[2.43,0.11,0.42,1.6],[3.06,0.08,0.5,2.0],[3.4,0.16,0.25,0.4],[3.41,0.11,0.15,0.3],
  [3.75,0.14,0.02,0.4],[4.23,0.08,0.5,1.3],[5.22,0.09,0.02,0.5],[5.32,0.16,0.1,0.4],[5.33,0.06,0.5,0.5],[5.51,0.1,0.08,0.4],[5.91,0.09,0.5,0.5],[5.91,0.17,0.5,0.4]
];
const BODIES_100 = [
  [0.59,0.09,0.08,4.2],[0.89,0.03,0.03,6.4],[1.42,0.03,0.23,10.7],[2.51,0.02,0.4,33.9],[3.65,0.03,0.42,1.6],[4.32,0.04,0.02,0.35],[4.98,0.03,0.28,0.35],[5.13,0.46,0.2,0.3],[5.61,0.24,0.5,0.4],[5.63,0.13,0.5,0.4]
];
const BODIES_200 = [
  [0.56,0.05,0.08,5.5],[0.85,0.08,0.05,7.6],[1.33,0.1,0.23,11.6],[2.51,0.03,0.4,36.7],[4.14,0.09,0.45,3.2],[5.85,0.14,0.1,0.3],[5.92,0.13,0.12,0.3],[5.79,0.11,0.3,0.4],[5.84,0.04,0.5,0.3]
];

const DOTS = [
  [...DOTS_01, ...DOTS_01B, ...DOTS_01C],
  [...DOTS_1, ...DOTS_1B, ...DOTS_1C],
  [...DOTS_10, ...DOTS_10B, ...DOTS_10C],
  [...DOTS_50, ...DOTS_50B, ...DOTS_50C],
  [...DOTS_100, ...DOTS_100B],
  [...DOTS_200, ...DOTS_200B],
];
const BODIES = [BODIES_01, BODIES_1, BODIES_10, BODIES_50, BODIES_100, BODIES_200];

// ---------------- styling / layout ----------------
const W = 592;
const H = 410;
const COL_X = [[32, 284], [284, 536]];
const ROW_Y = [[5, 131.5], [131.5, 258], [258, 384.5]];
const CBAR = { left: 536, right: 561, top: 5, bottom: 384.5 };
const FRAME = '#505050';
const TEXT = '#2a2a2a';
const OPT_FILL = '#9fb2f1';
const CON_FILL = '#7d7ef1';
const OPT_LINE = '#8aa0f0';
const CON_LINE = '#5252ea';

function hexToRgb(h: string) {
  const n = parseInt(h.slice(1), 16);
  return [(n >> 16) & 255, (n >> 8) & 255, n & 255];
}
function waterColor(w: number) {
  const v = Math.max(0, Math.min(0.5, w));
  for (let i = 0; i < WATER_STOPS.length - 1; i++) {
    if (v <= WATER_STOPS[i + 1]) {
      const t = (v - WATER_STOPS[i]) / (WATER_STOPS[i + 1] - WATER_STOPS[i]);
      const a = hexToRgb(WATER_COLORS[i]);
      const b = hexToRgb(WATER_COLORS[i + 1]);
      const c = a.map((x, k) => Math.round(x + (b[k] - x) * t));
      return `rgb(${c[0]},${c[1]},${c[2]})`;
    }
  }
  return WATER_COLORS[WATER_COLORS.length - 1];
}
const radiusFor = (m: number) => 3.4 * Math.cbrt(m);
const zip = (a: number[], e: number[]) => a.map((x, i) => ({ x, y: e[i] }));

function Panel({ idx }: { idx: number }) {
  const ref = useRef<HTMLCanvasElement>(null);
  useEffect(() => {
    const row = Math.floor(idx / 2);
    const col = idx % 2;
    const [x0, x1] = COL_X[col];
    const [y0, y1] = ROW_Y[row];
    const isLeft = col === 0;
    const isBottom = row === 2;
    const leftW = isLeft ? x0 : 0;
    const bottomH = isBottom ? H - y1 : 0;

    const annot = {
      id: 'annot' + idx,
      afterDatasetsDraw(chart: any) {
        const { ctx, chartArea } = chart;
        const l = chartArea.left;
        const t = chartArea.top;
        ctx.save();
        ctx.lineWidth = 3.2;
        ctx.lineCap = 'butt';
        ctx.strokeStyle = OPT_FILL;
        ctx.beginPath(); ctx.moveTo(l + 8, t + 14); ctx.lineTo(l + 31, t + 14); ctx.stroke();
        ctx.strokeStyle = CON_FILL;
        ctx.beginPath(); ctx.moveTo(l + 8, t + 22.5); ctx.lineTo(l + 31, t + 22.5); ctx.stroke();
        ctx.font = `8px ${FONT}`;
        ctx.fillStyle = TEXT;
        ctx.textBaseline = 'middle';
        ctx.textAlign = 'right';
        ctx.fillText(LEGEND_LABELS[0], l + 111, t + 14);
        ctx.fillText(LEGEND_LABELS[1], l + 111, t + 22.5);
        ctx.textAlign = 'left';
        ctx.fillText(TIME_LABELS[idx], l + 189, t + 12);
        ctx.restore();
      },
    };

    const lineDs = (data: any[], color: string, order: number) => ({
      type: 'line', data, showLine: true, borderColor: color, borderWidth: 1.2, pointRadius: 0,
      cubicInterpolationMode: 'monotone', fill: false, order, clip: 0, xAxisID: 'x', yAxisID: 'y',
    });
    const fillDs = (data: any[], color: string, order: number) => ({
      type: 'line', data, showLine: true, borderColor: 'rgba(0,0,0,0)', borderWidth: 0, pointRadius: 0,
      backgroundColor: color, fill: 'origin', tension: 0, order, clip: 0, xAxisID: 'x', yAxisID: 'y',
    });

    const frameGrid = { drawOnChartArea: false, drawTicks: true, tickLength: -4, color: FRAME, lineWidth: 1, z: 1 };
    const frameBorder = { display: true, color: FRAME, width: 1, z: 1 };

    const chart = new Chart(ref.current as HTMLCanvasElement, {
      type: 'scatter',
      data: {
        datasets: [
          {
            data: BODIES[idx].map(([x, y, w, m]) => ({ x, y, w, m })),
            pointStyle: 'circle',
            pointRadius: (c: any) => (c.raw ? radiusFor(c.raw.m) : 3),
            backgroundColor: (c: any) => (c.raw ? waterColor(c.raw.w) : '#f00'),
            borderWidth: 0, order: 0, clip: 0, xAxisID: 'x', yAxisID: 'y',
          },
          {
            data: DOTS[idx].map(([x, y]) => ({ x, y })),
            pointStyle: 'rect', pointRadius: 1.45, backgroundColor: '#000', borderWidth: 0,
            order: 1, clip: 0, xAxisID: 'x', yAxisID: 'y',
          },
          lineDs(zip(OPT_PERI_A, OPT_PERI_E), OPT_LINE, 2),
          lineDs(zip(OPT_APO_A, OPT_APO_E), OPT_LINE, 2),
          lineDs(zip(CON_PERI_A, CON_PERI_E), CON_LINE, 2),
          lineDs(zip(CON_APO_A, CON_APO_E), CON_LINE, 2),
          fillDs(zip(CON_ZONE_A, CON_ZONE_E), CON_FILL, 3),
          fillDs(zip(OPT_ZONE_A, OPT_ZONE_E), OPT_FILL, 4),
        ] as any,
      },
      options: {
        animation: false,
        responsive: false,
        events: [],
        layout: {
          autoPadding: false,
          padding: { left: x0 - leftW, right: W - x1, top: y0, bottom: H - y1 - bottomH },
        },
        plugins: { legend: { display: false }, tooltip: { enabled: false } },
        scales: {
          x: {
            type: 'linear', position: 'bottom', min: 0, max: 6,
            afterFit: (s: any) => { s.height = bottomH; },
            grid: frameGrid, border: frameBorder,
            ticks: {
              display: isBottom, stepSize: 1, padding: 8, maxRotation: 0, autoSkip: false, color: TEXT,
              callback: (v: any) => (isLeft && Math.abs(v - 6) < 1e-9 ? '' : String(v)),
            },
            title: { display: isBottom, text: 'Semimajor axis (au)', padding: 0, color: TEXT },
          },
          y: {
            type: 'linear', position: 'left', min: 0, max: 1,
            afterFit: (s: any) => { s.width = leftW; },
            grid: frameGrid, border: frameBorder,
            ticks: {
              display: isLeft, stepSize: 0.2, padding: 11, color: TEXT,
              callback: (v: any) => (row > 0 && Math.abs(v - 1) < 1e-9 ? '' : String(Math.round(v * 10) / 10)),
            },
            title: { display: isLeft, text: 'Eccentricity', padding: 0, color: TEXT },
          },
          x2: {
            type: 'linear', position: 'top', min: 0, max: 6,
            afterFit: (s: any) => { s.height = 0; },
            grid: frameGrid, border: frameBorder,
            ticks: { display: false, stepSize: 1 },
          },
          y2: {
            type: 'linear', position: 'right', min: 0, max: 1,
            afterFit: (s: any) => { s.width = 0; },
            grid: frameGrid, border: frameBorder,
            ticks: { display: false, stepSize: 0.2 },
          },
        },
      } as any,
      plugins: [annot],
    } as any);
    return () => chart.destroy();
  }, [idx]);
  return <canvas ref={ref} width={W} height={H} style={{ position: 'absolute', left: 0, top: 0 }} />;
}

function ColorBar() {
  const ref = useRef<HTMLCanvasElement>(null);
  useEffect(() => {
    const titlePlugin = {
      id: 'cbTitle',
      afterDraw(chart: any) {
        const { ctx, chartArea } = chart;
        ctx.save();
        ctx.translate(chartArea.right + 27.5, (chartArea.top + chartArea.bottom) / 2);
        ctx.rotate(-Math.PI / 2);
        ctx.font = `8px ${FONT}`;
        ctx.fillStyle = TEXT;
        ctx.textAlign = 'center';
        ctx.textBaseline = 'middle';
        ctx.fillText('Fraction of water', 0, 0);
        ctx.restore();
      },
    };
    const axisW = W - CBAR.right;
    const chart = new Chart(ref.current as HTMLCanvasElement, {
      type: 'bar',
      data: {
        labels: ['water'],
        datasets: [
          {
            data: [[WATER_TICKS[0], WATER_TICKS[WATER_TICKS.length - 1]]],
            barPercentage: 1,
            categoryPercentage: 1,
            borderWidth: 1,
            borderColor: FRAME,
            borderSkipped: false,
            backgroundColor: (c: any) => {
              const ch = c.chart;
              const ys = ch.scales && ch.scales.y;
              if (!ys || !ch.chartArea) return WATER_COLORS[0];
              const g = ch.ctx.createLinearGradient(0, ys.getPixelForValue(0), 0, ys.getPixelForValue(0.5));
              WATER_STOPS.forEach((s, i) => g.addColorStop(s / 0.5, WATER_COLORS[i]));
              return g;
            },
          },
        ],
      },
      options: {
        animation: false,
        responsive: false,
        events: [],
        layout: {
          autoPadding: false,
          padding: { left: CBAR.left, right: 0, top: CBAR.top, bottom: H - CBAR.bottom },
        },
        plugins: { legend: { display: false }, tooltip: { enabled: false } },
        scales: {
          x: { display: false },
          y: {
            type: 'linear', position: 'right', min: 0, max: 0.5,
            afterFit: (s: any) => { s.width = axisW; },
            grid: { drawOnChartArea: false, drawTicks: true, tickLength: -4, color: FRAME, z: 1 },
            border: { display: false },
            afterBuildTicks: (s: any) => { s.ticks = WATER_TICKS.map((v) => ({ value: v })); },
            ticks: { padding: 9, color: TEXT, callback: (v: any) => String(Math.round(v * 10) / 10) },
          },
        },
      } as any,
      plugins: [titlePlugin],
    } as any);
    return () => chart.destroy();
  }, []);
  return <canvas ref={ref} width={W} height={H} style={{ position: 'absolute', left: 0, top: 0 }} />;
}

export default function App() {
  return (
    <div style={{ position: 'fixed', left: 0, top: 0, width: W, height: H, background: '#fff', overflow: 'hidden' }}>
      {[0, 1, 2, 3, 4, 5].map((i) => (
        <Panel key={i} idx={i} />
      ))}
      <ColorBar />
    </div>
  );
}
